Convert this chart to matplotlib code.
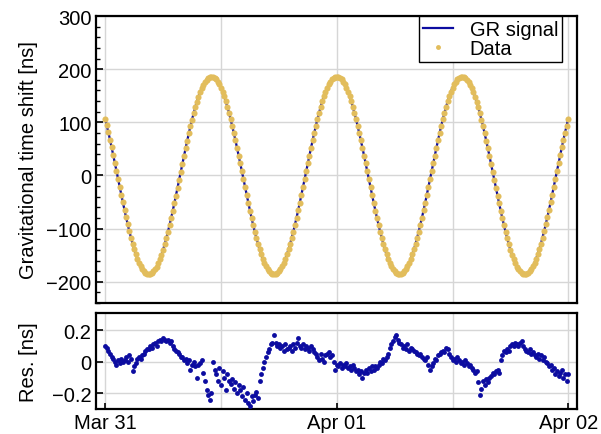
import numpy as np
import matplotlib
matplotlib.use("Agg")
import matplotlib.pyplot as plt
from matplotlib.ticker import MultipleLocator, FixedLocator

plt.rcParams['font.family'] = ['Liberation Sans', 'DejaVu Sans']
plt.rcParams['axes.unicode_minus'] = True

# ---- data -------------------------------------------------------------
sample_step_min = 10  # one sample every 10 minutes, starting Mar 31 00:00

# modelled gravitational time shift [ns]
gr_signal = [
    106.7, 94.1, 80.9, 67.1, 52.9, 38.4, 23.6, 8.7, -6.3, -21.3,
    -36.1, -50.7, -64.9, -78.8, -92.0, -104.8, -116.8, -128.1, -138.5, -148.0,
    -156.7, -164.2, -170.7, -176.1, -180.4, -183.4, -185.3, -186.0, -185.5, -183.7,
    -180.8, -176.7, -171.5, -165.1, -157.7, -149.2, -139.8, -129.5, -118.3, -106.3,
    -93.6, -80.4, -66.7, -52.5, -37.9, -23.2, -8.2, 6.8, 21.7, 36.5,
    51.1, 65.3, 79.1, 92.4, 105.2, 117.2, 128.4, 138.8, 148.4, 156.9,
    164.4, 170.9, 176.3, 180.5, 183.5, 185.4, 186.0, 185.4, 183.7, 180.7,
    176.6, 171.3, 164.9, 157.4, 148.9, 139.5, 129.1, 118.0, 106.0, 93.3,
    80.1, 66.3, 52.0, 37.5, 22.7, 7.8, -7.2, -22.2, -37.0, -51.5,
    -65.7, -79.5, -92.8, -105.5, -117.5, -128.7, -139.1, -148.6, -157.2, -164.6,
    -171.1, -176.4, -180.6, -183.6, -185.4, -186.0, -185.4, -183.6, -180.6, -176.4,
    -171.1, -164.7, -157.2, -148.7, -139.2, -128.8, -117.6, -105.6, -92.9, -79.7,
    -65.9, -51.6, -37.1, -22.3, -7.3, 7.7, 22.6, 37.4, 51.9, 66.1,
    79.9, 93.2, 105.9, 117.8, 129.1, 139.4, 148.9, 157.4, 164.8, 171.2,
    176.5, 180.7, 183.7, 185.4, 186.0,
    185.4, 183.7, 180.7, 176.5, 171.2, 164.8, 157.4, 148.9, 139.4, 129.1,
    117.8, 105.9, 93.2, 79.9, 66.1, 51.9, 37.4, 22.6, 7.7, -7.3,
    -22.3, -37.1, -51.6, -65.9, -79.7, -92.9, -105.6, -117.6, -128.8, -139.2,
    -148.7, -157.2, -164.7, -171.1, -176.4, -180.6, -183.6, -185.4, -186.0, -185.4,
    -183.6, -180.6, -176.4, -171.1, -164.6, -157.2, -148.6, -139.1, -128.7, -117.5,
    -105.5, -92.8, -79.5, -65.7, -51.5, -37.0, -22.2, -7.2, 7.8, 22.7,
    37.5, 52.0, 66.3, 80.1, 93.3, 106.0, 118.0, 129.1, 139.5, 148.9,
    157.4, 164.9, 171.3, 176.6, 180.7, 183.7, 185.4, 186.0, 185.4, 183.5,
    180.5, 176.3, 170.9, 164.4, 156.9, 148.4, 138.8, 128.4, 117.2, 105.2,
    92.4, 79.1, 65.3, 51.1, 36.5, 21.7, 6.8, -8.2, -23.2, -37.9,
    -52.5, -66.7, -80.4, -93.6, -106.3, -118.3, -129.5, -139.8, -149.2, -157.7,
    -165.1, -171.5, -176.7, -180.8, -183.7, -185.5, -186.0, -185.3, -183.4, -180.4,
    -176.1, -170.7, -164.2, -156.7, -148.0, -138.5, -128.1, -116.8, -104.8, -92.0,
    -78.8, -64.9, -50.7, -36.1, -21.3, -6.3, 8.7, 23.6, 38.4, 52.9,
    67.1, 80.9, 94.1, 106.7,
]

# residuals data - model [ns], six samples per hour
residuals = [
    0.10, 0.09, 0.07, 0.05, 0.03, 0.02,
    0.00, -0.02, 0.01, -0.01, 0.02, 0.00,
    0.01, 0.03, 0.00, 0.045, 0.02, -0.06,
    -0.03, -0.01, 0.02, 0.03, 0.02, 0.04,
    0.05, 0.07, 0.08, 0.08, 0.10, 0.09,
    0.11, 0.12, 0.10, 0.13, 0.14, 0.13,
    0.15, 0.14, 0.13, 0.14, 0.12, 0.13,
    0.10, 0.08, 0.07, 0.06, 0.05, 0.03,
    0.03, 0.01, 0.02, -0.01, 0.01, -0.05,
    -0.02, 0.00, -0.03, -0.10, -0.02, -0.01,
    0.01, -0.07, -0.12, -0.18, -0.21, -0.24,
    -0.20, 0.00, -0.05, -0.08, -0.12, -0.04,
    -0.15, -0.06, -0.10, -0.18, -0.08, -0.12,
    -0.14, -0.11, -0.17, -0.13, -0.20, -0.15,
    -0.18, -0.22, -0.16, -0.24, -0.20, -0.26,
    -0.28, -0.22, -0.25, -0.21, -0.19, -0.23,
    -0.12, -0.08, -0.04, 0.00, 0.03, 0.06,
    0.08, 0.11, 0.12, 0.17, 0.12, 0.10,
    0.11, 0.09, 0.10, 0.07, 0.11, 0.08,
    0.09, 0.10, 0.07, 0.11, 0.09, 0.12,
    0.15, 0.10, 0.09, 0.11, 0.08, 0.10,
    0.09, 0.07, 0.10, 0.08, 0.06, 0.05,
    0.03, 0.01, 0.05, 0.02, 0.00, 0.04,
    0.05, 0.06, 0.03, 0.04, 0.00, -0.05,
    -0.02, -0.03, -0.01, -0.04, -0.02, -0.03,
    -0.01, -0.04, -0.03, -0.05, -0.02, -0.04,
    -0.06, -0.05, -0.08, -0.06, -0.10, -0.07,
    -0.05, -0.07, -0.04, -0.06, -0.03, -0.05,
    -0.03, -0.04, -0.02, 0.00, -0.01, 0.02,
    0.01, 0.03, 0.05, 0.09, 0.11, 0.13,
    0.16, 0.17, 0.14, 0.12, 0.11, 0.09,
    0.10, 0.08, 0.11, 0.07, 0.09, 0.08,
    0.07, 0.06, 0.05, 0.04, 0.05, 0.03,
    0.02, 0.01, 0.03, -0.02, -0.05, -0.03,
    -0.01, 0.02, 0.01, 0.04, 0.05, 0.06,
    0.07, 0.06, 0.09, 0.08, 0.05, 0.03,
    0.01, 0.02, 0.00, 0.03, 0.01, -0.01,
    0.00, -0.02, 0.01, -0.01, -0.03, -0.02,
    -0.04, -0.05, -0.07, -0.06, -0.13, -0.21,
    -0.17, -0.12, -0.15, -0.11, -0.13, -0.10,
    -0.09, -0.07, -0.08, -0.06, -0.05, -0.07,
    0.01, 0.04, 0.07, 0.06, 0.08, 0.07,
    0.10, 0.11, 0.10, 0.12, 0.11, 0.10,
    0.12, 0.13, 0.10, 0.08, 0.07, 0.06,
    0.08, 0.05, 0.06, 0.04, 0.03, 0.05,
    0.02, 0.04, 0.01, 0.03, 0.00, -0.01,
    -0.03, -0.02, -0.05, -0.04, -0.08, -0.06,
    -0.09, -0.07, -0.05, -0.10, -0.08, -0.12,
    -0.08,
]

date_ticks_h = [0, 24, 48]
date_labels = ["Mar 31", "Apr 01", "Apr 02"]

# ---- derived series ---------------------------------------------------
hours = np.arange(len(gr_signal)) * sample_step_min / 60.0
gr = np.asarray(gr_signal)
res = np.asarray(residuals)
measured = gr + res

# ---- styling ----------------------------------------------------------
blue = '#0c0ca0'
gold = '#e2bd5c'
grid_col = '#d6d6d6'
fs = 14.5

fig = plt.figure(figsize=(6.01, 4.35), dpi=100)
ax1 = fig.add_axes([0.159, 0.3011, 0.801, 0.6598])
ax2 = fig.add_axes([0.159, 0.0575, 0.801, 0.2207])

xlim = (-1.0, 48.9)

for ax in (ax1, ax2):
    ax.set_xlim(*xlim)
    ax.xaxis.set_major_locator(FixedLocator(date_ticks_h))
    ax.xaxis.set_minor_locator(MultipleLocator(12))
    ax.grid(True, which='both', axis='x', color=grid_col, lw=1.0, zorder=0)
    ax.grid(True, which='major', axis='y', color=grid_col, lw=1.0, zorder=0)
    ax.set_axisbelow(True)
    for sp in ax.spines.values():
        sp.set_linewidth(1.6)
        sp.set_color('black')
    ax.tick_params(axis='y', which='major', direction='in', length=5,
                   width=1.2, labelsize=fs, pad=3, right=False)
    ax.tick_params(axis='y', which='minor', direction='in', length=3,
                   width=1.0, right=False)
    ax.tick_params(axis='x', which='minor', length=0)

# top panel: signal and data
ax1.plot(hours, gr, color=blue, lw=1.6, zorder=2, label='GR signal')
ax1.plot(hours, measured, linestyle='none', marker='o', ms=4.4,
         color=gold, mec='none', zorder=3, label='Data')
ax1.set_ylim(-240, 300)
ax1.yaxis.set_major_locator(MultipleLocator(100))
ax1.yaxis.set_minor_locator(MultipleLocator(20))
ax1.tick_params(axis='x', which='both', length=0, labelbottom=False)
ax1.set_ylabel('Gravitational time shift [ns]', fontsize=fs)

leg = ax1.legend(loc='upper right', bbox_to_anchor=(0.969, 1.0),
                 borderaxespad=0, fancybox=False, framealpha=1,
                 edgecolor='black', fontsize=fs, handlelength=1.5,
                 handletextpad=0.8, borderpad=0.2, labelspacing=0.0,
                 markerscale=0.8)
leg.get_frame().set_linewidth(1.0)

# bottom panel: residuals
ax2.plot(hours, res, linestyle='none', marker='o', ms=3.5,
         color=blue, mec='none', zorder=3)
ax2.set_ylim(-0.3, 0.31)
ax2.yaxis.set_major_locator(FixedLocator([-0.2, 0.0, 0.2]))
ax2.set_yticklabels(['\u22120.2', '0', '0.2'])
ax2.set_xticklabels(date_labels)
ax2.tick_params(axis='x', which='major', direction='in', length=4,
                width=1.2, labelsize=fs, pad=3, top=False)
ax2.set_ylabel('Res. [ns]', fontsize=fs)

ax1.yaxis.set_label_coords(-0.119, 0.5)
ax2.yaxis.set_label_coords(-0.119, 0.5)

fig.savefig('out.png', dpi=100)
